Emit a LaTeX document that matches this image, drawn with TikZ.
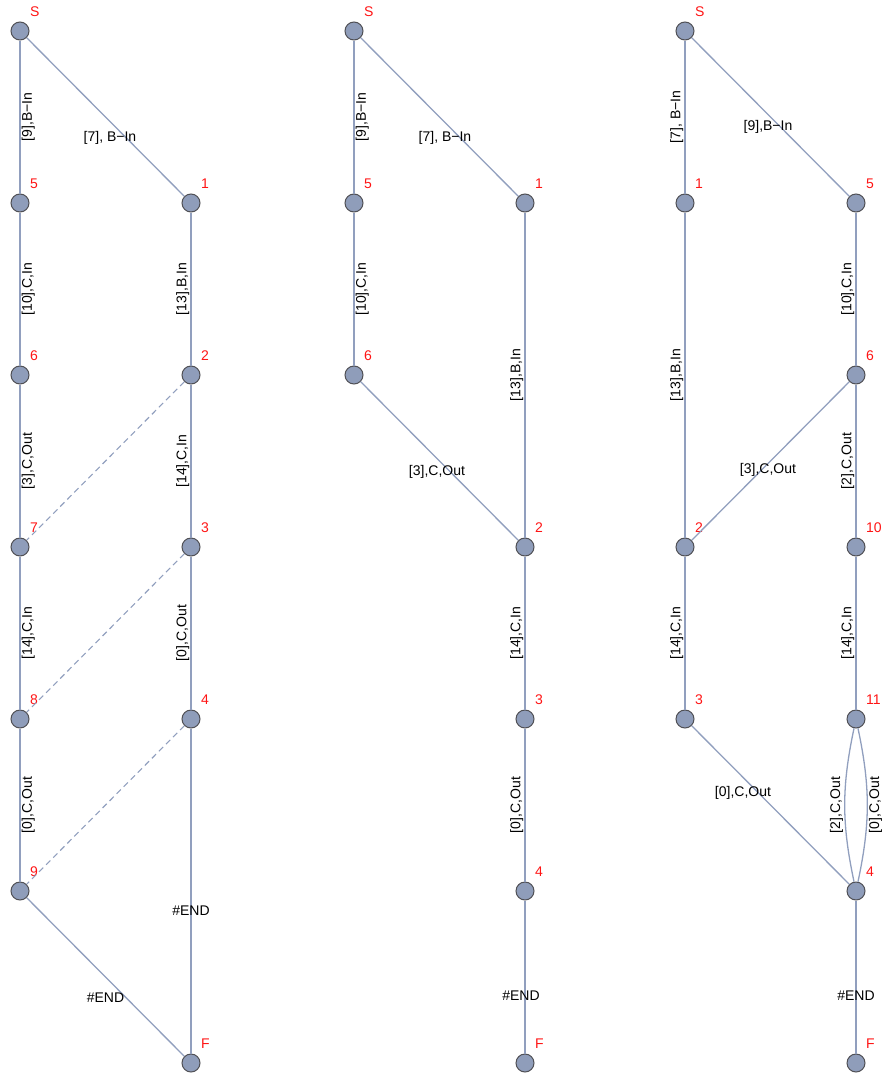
\documentclass[tikz,border=0pt]{standalone}
\usepackage{fontspec}
\setmainfont{Liberation Sans}
\usepackage{xcolor}
\usepackage{tikz}
\usetikzlibrary{positioning}
\definecolor{vtxfill}{RGB}{143,157,186}
\definecolor{vtxdraw}{RGB}{80,80,85}
\definecolor{edgeblue}{RGB}{145,159,190}
\definecolor{numred}{RGB}{255,20,20}
\tikzset{
  vtx/.style={circle, draw=vtxdraw, fill=vtxfill, line width=1pt, minimum size=18pt, inner sep=0pt},
  nlab/.style={anchor=base west, inner sep=0pt, text=numred, font=\fontsize{14}{16}\selectfont},
  edge/.style={draw=edgeblue, line width=1.3pt},
  dashedge/.style={edge, line width=1.1pt, dash pattern=on 6pt off 4pt},
  elab/.style={inner sep=1pt, font=\fontsize{14}{16}\selectfont},
  vlabR/.style={elab, rotate=90, anchor=north},
  vlabL/.style={elab, rotate=90, anchor=south},
}
\newcommand{\vertices}[2]{%
  \foreach \n/\x/\y in {#2} {
    \node[vtx] (#1\n) at (\x,\y) {};
    \node[nlab] (#1\n l) at ([xshift=10pt,yshift=14.5pt]#1\n.center) {\n};
  }}

\begin{document}
\begin{tikzpicture}[x=1pt, y=-1pt]
  \useasboundingbox (0,0) rectangle (888,1074);

  % First graph
  \vertices{a}{S/20/31, 5/20/203, 6/20/375, 7/20/547, 8/20/719, 9/20/891,
    1/191/203, 2/191/375, 3/191/547, 4/191/719, F/191/1063}
  \draw[edge] (aS) -- node[vlabR] {[9],B−In} (a5);
  \draw[edge] (aS) -- node[elab, xshift=4.5pt, yshift=-21pt] {[7], B−In} (a1);
  \draw[edge] (a5) -- node[vlabR] {[10],C,In} (a6);
  \draw[edge] (a1) -- node[vlabL] {[13],B,In} (a2);
  \draw[edge] (a6) -- node[vlabR] {[3],C,Out} (a7);
  \draw[edge] (a2) -- node[vlabL] {[14],C,In} (a3);
  \draw[edge] (a7) -- node[vlabR] {[14],C,In} (a8);
  \draw[edge] (a3) -- node[vlabL] {[0],C,Out} (a4);
  \draw[edge] (a8) -- node[vlabR] {[0],C,Out} (a9);
  \draw[edge] (a4) -- node[elab, pos=.56] {\#END} (aF);
  \draw[edge] (a9) -- node[elab, yshift=-21pt] {\#END} (aF);
  \foreach \u/\v in {2/7, 3/8, 4/9}
    \draw[dashedge] (a\u) -- (a\v);

  % Second graph
  \vertices{b}{S/354/31, 5/354/203, 6/354/375, 1/525/203, 2/525/547,
    3/525/719, 4/525/891, F/525/1063}
  \draw[edge] (bS) -- node[vlabR] {[9],B−In} (b5);
  \draw[edge] (bS) -- node[elab, xshift=5.5pt, yshift=-21pt] {[7], B−In} (b1);
  \draw[edge] (b5) -- node[vlabR] {[10],C,In} (b6);
  \draw[edge] (b1) -- node[vlabL] {[13],B,In} (b2);
  \draw[edge] (b6) -- node[elab, xshift=-2.5pt, yshift=-11pt] {[3],C,Out} (b2);
  \draw[edge] (b2) -- node[vlabL] {[14],C,In} (b3);
  \draw[edge] (b3) -- node[vlabL] {[0],C,Out} (b4);
  \draw[edge] (b4) -- node[elab, pos=.62, xshift=-4pt] {\#END} (bF);

  % Third graph
  \vertices{c}{S/685/31, 1/685/203, 2/685/547, 3/685/719, 5/856/203,
    6/856/375, 10/856/547, 11/856/719, 4/856/891, F/856/1063}
  \draw[edge] (cS) -- node[vlabL] {[7], B−In} (c1);
  \draw[edge] (cS) -- node[elab, xshift=-2.5pt, yshift=-10pt] {[9],B−In} (c5);
  \draw[edge] (c5) -- node[vlabL] {[10],C,In} (c6);
  \draw[edge] (c1) -- node[vlabL] {[13],B,In} (c2);
  \draw[edge] (c6) -- node[elab, xshift=-2.5pt, yshift=-9pt] {[3],C,Out} (c2);
  \draw[edge] (c6) -- node[vlabL] {[2],C,Out} (c10);
  \draw[edge] (c2) -- node[vlabL] {[14],C,In} (c3);
  \draw[edge] (c10) -- node[vlabL] {[14],C,In} (c11);
  \draw[edge] (c3) -- node[elab, xshift=-27.5pt, yshift=12pt] {[0],C,Out} (c4);
  \draw[edge] (c11) to[bend right=12] node[vlabL] {[2],C,Out} (c4);
  \draw[edge] (c11) to[bend left=12] node[vlabR] {[0],C,Out} (c4);
  \draw[edge] (c4) -- node[elab, pos=.62] {\#END} (cF);
\end{tikzpicture}
\end{document}
